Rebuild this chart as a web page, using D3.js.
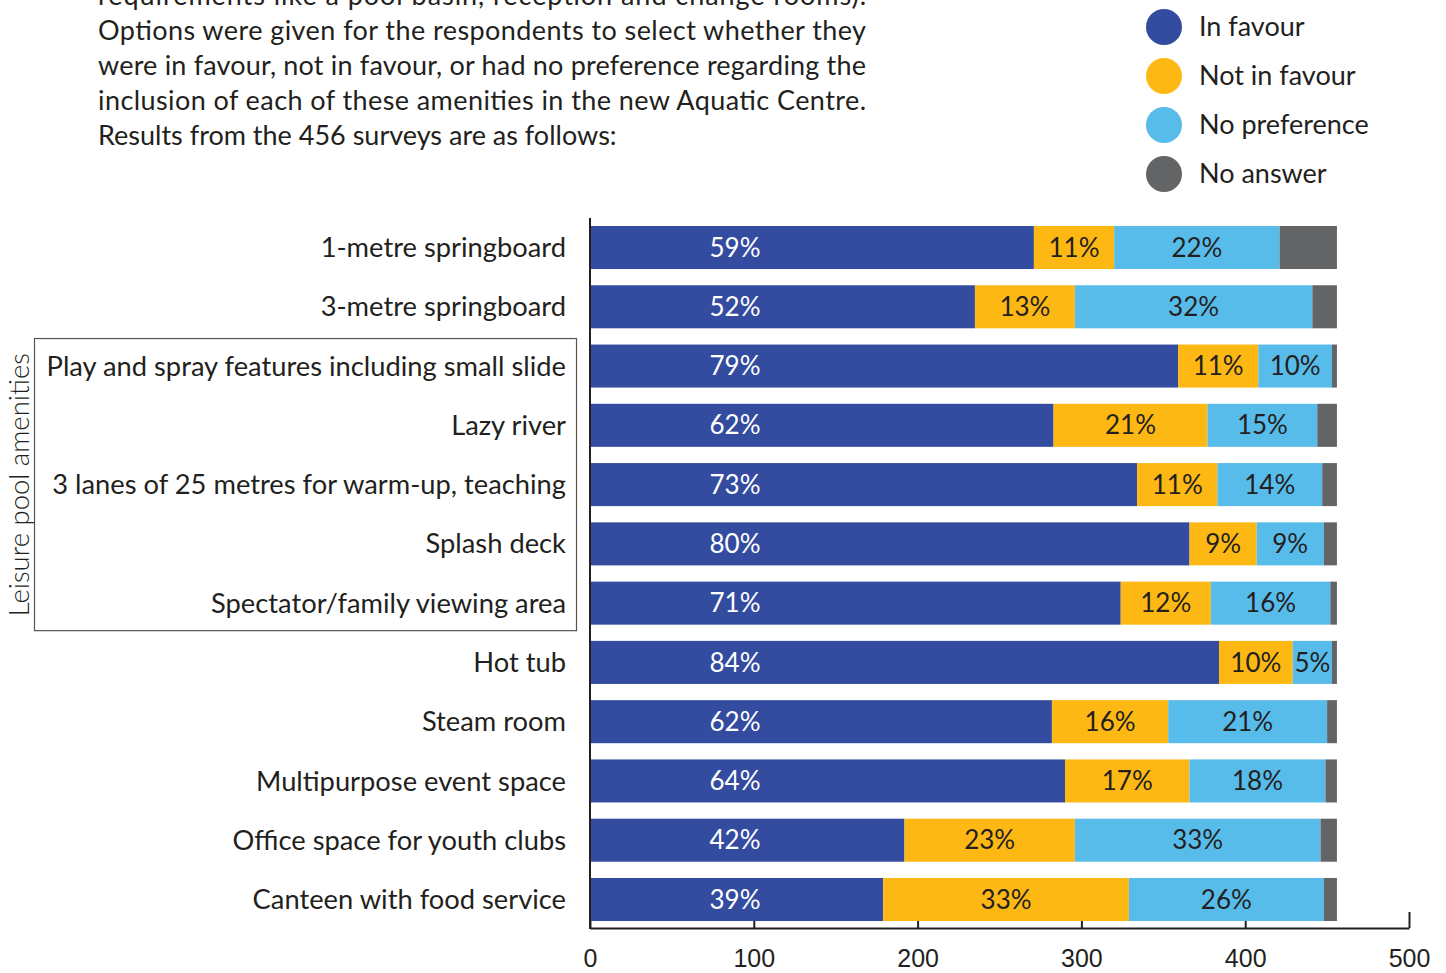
<!DOCTYPE html>
<html>
<head>
<meta charset="utf-8">
<script src="https://cdn.jsdelivr.net/npm/d3@7"></script>
<style>
  body { margin: 0; background: #fff; }
  svg { display: block; font-family: Lato, "Open Sans", sans-serif; }
</style>
</head>
<body>
<svg width="1446" height="973"></svg>
<script>
// survey data (456 responses)
const totalSurveys = 456;
const categories = [
  "1-metre springboard",
  "3-metre springboard",
  "Play and spray features including small slide",
  "Lazy river",
  "3 lanes of 25 metres for warm-up, teaching",
  "Splash deck",
  "Spectator/family viewing area",
  "Hot tub",
  "Steam room",
  "Multipurpose event space",
  "Office space for youth clubs",
  "Canteen with food service"
];
const inFavour     = [271, 235, 359, 283, 334, 366, 324, 384, 282, 290, 192, 179];
const notInFavour  = [ 49,  61,  49,  94,  49,  41,  55,  45,  71,  76, 104, 150];
const noPreference = [101, 145,  45,  67,  64,  41,  73,  24,  97,  83, 150, 119];
const noAnswer     = [ 35,  15,   3,  12,   9,   8,   4,   3,   6,   7,  10,   8];
const seriesNames = ["In favour", "Not in favour", "No preference", "No answer"];
const seriesColors = ["#334c9f", "#fdb813", "#58bceb", "#636466"];
const xTicks = [0, 100, 200, 300, 400, 500];
const groupLabel = "Leisure pool amenities";
const groupRows = ["Play and spray features including small slide", "Spectator/family viewing area"];
const introLines = [
  "requirements like a pool basin, reception and change rooms).",
  "Options were given for the respondents to select whether they",
  "were in favour, not in favour, or had no preference regarding the",
  "inclusion of each of these amenities in the new Aquatic Centre.",
  "Results from the 456 surveys are as follows:"
];

const svg = d3.select("svg");
const ink = "#231f20";

const rows = categories.map((c, i) => ({
  category: c,
  "In favour": inFavour[i],
  "Not in favour": notInFavour[i],
  "No preference": noPreference[i],
  "No answer": noAnswer[i]
}));

const x = d3.scaleLinear().domain([0, 500]).range([590, 1409]);
const y = d3.scaleBand().domain(categories).range([226, 921]).paddingInner(0.274);
const color = d3.scaleOrdinal().domain(seriesNames).range(seriesColors);

// intro paragraph (justified)
svg.append("g")
  .selectAll("text")
  .data(introLines)
  .join("text")
    .attr("x", 98)
    .attr("y", (d, i) => 5 + i * 35)
    .attr("font-size", 27)
    .attr("fill", ink)
    .attr("textLength", (d, i) => i < introLines.length - 1 ? 768 : null)
    .attr("lengthAdjust", "spacing")
    .text(d => d);

// legend
const legend = svg.append("g");
seriesNames.forEach((name, i) => {
  const item = legend.append("g").attr("transform", `translate(1164, ${27 + i * 49})`);
  item.append("circle").attr("r", 18).attr("fill", color(name));
  item.append("text")
    .attr("x", 35)
    .attr("dy", "0.35em")
    .attr("font-size", 27)
    .attr("fill", ink)
    .text(name);
});

// x axis
const xAxis = svg.append("g")
  .attr("transform", "translate(0, 928)")
  .call(d3.axisBottom(x).tickValues(xTicks).tickSizeInner(-16).tickSizeOuter(0).tickPadding(21));
xAxis.select(".domain").attr("stroke", ink).attr("stroke-width", 2);
xAxis.selectAll(".tick line").attr("stroke", ink).attr("stroke-width", 2);
xAxis.selectAll(".tick text").attr("font-size", 25).attr("fill", ink).attr("font-family", null);

// stacked bars
const stack = d3.stack().keys(seriesNames);
const series = stack(rows);

svg.append("g")
  .selectAll("g")
  .data(series)
  .join("g")
    .attr("fill", d => color(d.key))
  .selectAll("rect")
  .data(d => d)
  .join("rect")
    .attr("x", d => x(d[0]))
    .attr("y", d => y(d.data.category))
    .attr("width", d => x(d[1]) - x(d[0]))
    .attr("height", y.bandwidth());

// percentage labels
const fmtPct = v => Math.round(v / totalSurveys * 100) + "%";
series.filter(s => s.key !== "No answer").forEach(s => {
  svg.append("g")
    .selectAll("text")
    .data(s)
    .join("text")
      .attr("x", d => s.key === "In favour" ? x(0) + 145 : (x(d[0]) + x(d[1])) / 2)
      .attr("y", d => y(d.data.category) + y.bandwidth() / 2)
      .attr("dy", "0.35em")
      .attr("text-anchor", "middle")
      .attr("font-size", 26)
      .attr("fill", s.key === "In favour" ? "#fff" : ink)
      .text(d => fmtPct(d[1] - d[0]));
});

// y axis line and category labels
svg.append("line")
  .attr("x1", x(0)).attr("x2", x(0))
  .attr("y1", 218).attr("y2", 929)
  .attr("stroke", ink).attr("stroke-width", 2);

svg.append("g")
  .selectAll("text")
  .data(categories)
  .join("text")
    .attr("x", 566)
    .attr("y", d => y(d) + y.bandwidth() / 2)
    .attr("dy", "0.35em")
    .attr("text-anchor", "end")
    .attr("font-size", 27.3)
    .attr("fill", ink)
    .text(d => d);

// group bracket
const gTop = y(groupRows[0]) - 6;
const gBottom = y(groupRows[1]) + y.bandwidth() + 6;
svg.append("rect")
  .attr("x", 34.5).attr("y", gTop)
  .attr("width", 542).attr("height", gBottom - gTop)
  .attr("fill", "none")
  .attr("stroke", "#555")
  .attr("stroke-width", 1.2);

svg.append("text")
  .attr("transform", `translate(19, ${(gTop + gBottom) / 2}) rotate(-90)`)
  .attr("dy", "0.35em")
  .attr("text-anchor", "middle")
  .attr("font-size", 27.5)
  .attr("font-weight", 300)
  .attr("fill", ink)
  .text(groupLabel);
</script>
</body>
</html>
